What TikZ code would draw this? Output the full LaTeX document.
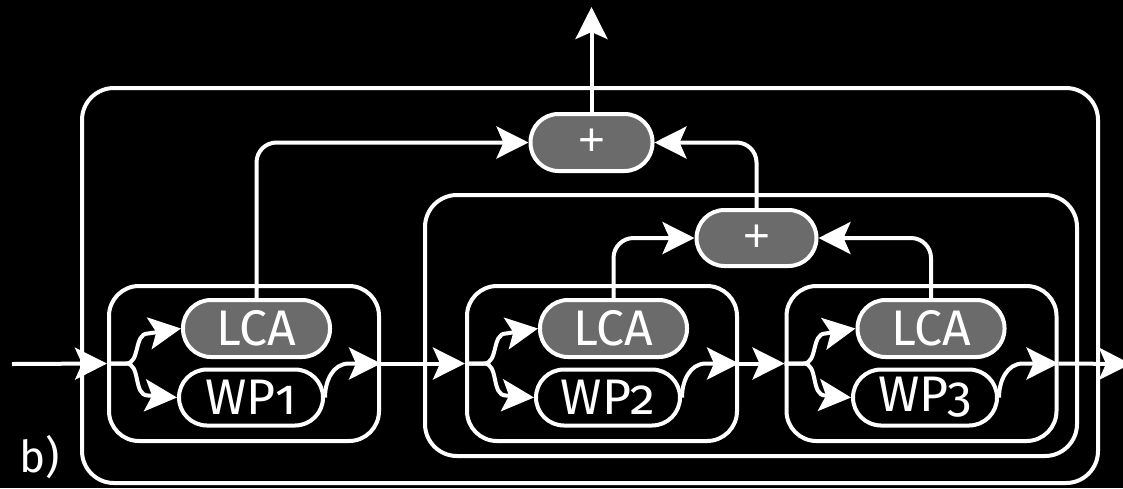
\documentclass[tikz,border=0pt]{standalone}
\usepackage{fontspec}
\setmainfont{Fira Sans}[Numbers=OldStyle]
\newfontfamily\plusfont{Liberation Sans}
\usetikzlibrary{arrows.meta,calc}
\definecolor{blockgray}{RGB}{107,107,107}

\begin{document}
\begin{tikzpicture}[x=0.5pt,y=-0.5pt,line width=2pt,white,
  >={Stealth[length=16pt,width=16pt,inset=3.5pt]},
  pill/.style={draw=white,rounded corners=14pt,inner sep=0pt,text=white,
    minimum width=73.5pt,minimum height=28.5pt,font=\fontsize{25}{29}\selectfont},
  lcabox/.style={pill,fill=blockgray},
  wpbox/.style={pill,fill=black,minimum width=72pt,minimum height=28pt},
  sumbox/.style={pill,fill=blockgray,minimum width=61pt,minimum height=28.5pt,
    font=\plusfont\fontsize{23}{26}\selectfont},
  stagebox/.style={draw=white,rounded corners=15pt,inner sep=0pt,
    minimum width=135pt,minimum height=77.5pt},
  frame/.style={draw=white,rounded corners=16pt},
  link/.style={->,rounded corners=10pt}]

% canvas
\fill[black] (0,0) rectangle (1123,488);
\useasboundingbox (0,0) rectangle (1123,488);

% enclosing frames
\draw[frame] (82,88) rectangle (1098,483);
\draw[frame] (425,195) rectangle (1077,456);

% stages
\node[stagebox] (s1) at (244,363.5) {};
\node[stagebox] (s2) at (602,363.5) {};
\node[stagebox] (s3) at (921.5,363.5) {};

\node[lcabox] (lca1) at (256.5,328.5) {LCA};
\node[wpbox]  (wp1)  at (251,397.5) {WP1};
\node[lcabox] (lca2) at (613.5,328.5) {LCA};
\node[wpbox]  (wp2)  at (608,397.5) {WP2};
\node[lcabox] (lca3) at (931,328.5) {LCA};
\node[wpbox]  (wp3)  at (925,397.5) {WP3};

% summation nodes
\node[sumbox] (plus1) at (591.5,142.5) {+};
\node[sumbox,minimum width=60pt,minimum height=28pt] (plus2) at (756.5,238) {+};

% ends of the signal chain
\coordinate (in)  at (12,364);
\coordinate (out) at (1131,364);
\coordinate (top) at (591.5,7);

\node[font=\fontsize{22}{26}\selectfont] (lbl) at (40,457) {b)};

% main chain
\draw[->] (in) -- (s1.west);
\draw[->] (s1.east) -- (s2.west);
\draw[->] (s2.east) -- (s3.west);
\draw[->] (s3.east) -- (out);

% split and merge inside each stage
\foreach \s/\l/\w in {s1/lca1/wp1,s2/lca2/wp2,s3/lca3/wp3}{
  \draw[->] (\s.west) -- ++(19,0) to[out=0,in=180] ++(22,-30) -- (\l.west);
  \draw[->] (\s.west) -- ++(19,0) to[out=0,in=180] ++(22,32) -- (\w.west);
  \draw[->] (\w.east) to[out=90,in=180] ($(\w.east |- \s.center)+(24,0)$) -- (\s.east);
}

% combination tree
\draw[link] (lca1.north) |- (plus1.west);
\draw[link] (lca2.north) |- (plus2.west);
\draw[link] (lca3.north) |- (plus2.east);
\draw[link] (plus2.north) |- (plus1.east);
\draw[->] (plus1.north) -- (top);
\end{tikzpicture}
\end{document}
